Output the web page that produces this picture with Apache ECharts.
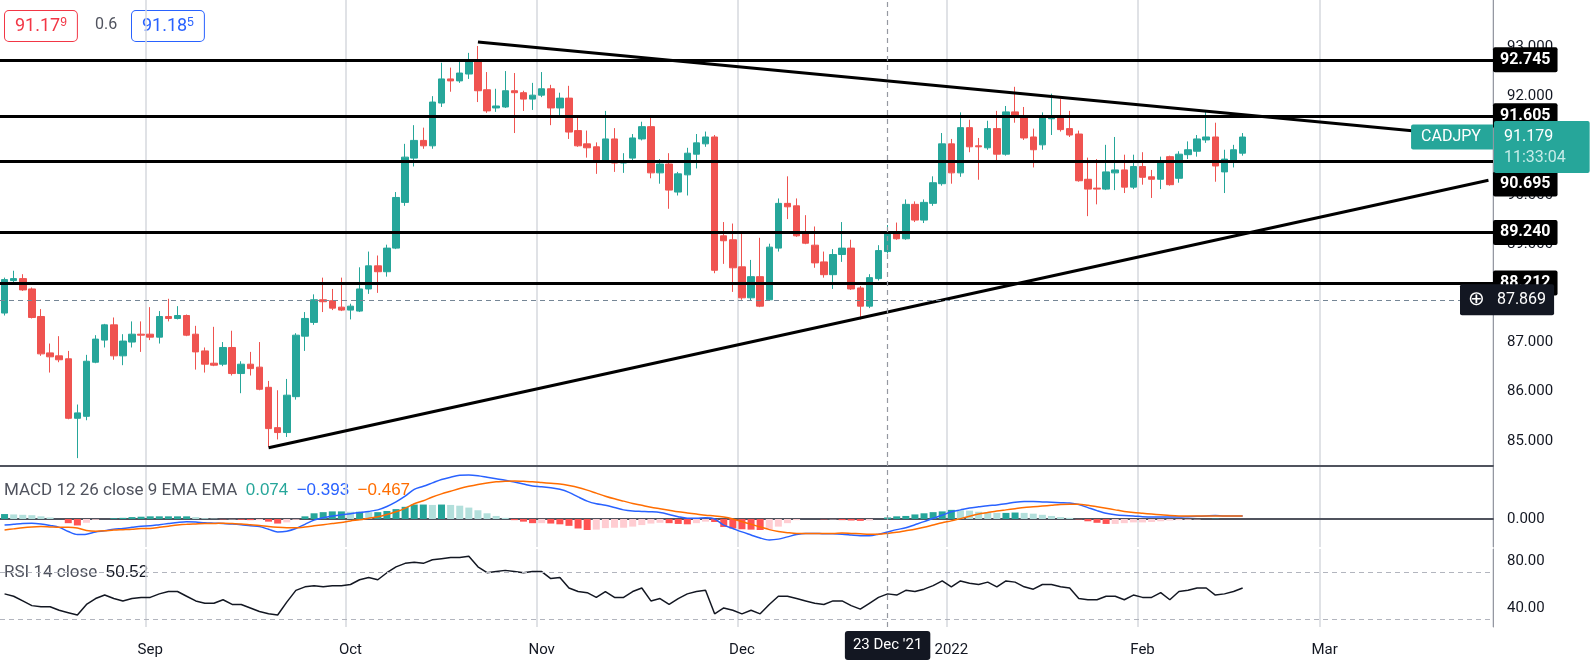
<!DOCTYPE html>
<html>
<head>
<meta charset="utf-8">
<script src="https://cdn.jsdelivr.net/npm/echarts@6/dist/echarts.min.js"></script>
<style>
  html, body { margin: 0; padding: 0; background: #fff; }
  #main { width: 1596px; height: 669px; }
</style>
</head>
<body>
<div id="main"></div>
<script>
// daily CADJPY candles, [open, close, low, high]
const candles = [
  [87.60,88.28,87.55,88.32],[88.26,88.30,88.23,88.46],[88.30,88.07,88.05,88.39],[88.09,87.51,87.49,88.12],[87.53,86.77,86.73,87.68],
  [86.79,86.71,86.39,86.98],[86.73,86.65,86.60,87.13],[86.67,85.46,85.44,86.83],[85.46,85.57,84.65,85.74],[85.50,86.62,85.42,86.75],
  [86.60,87.07,86.58,87.15],[87.05,87.36,86.90,87.38],[87.36,86.73,86.65,87.51],[86.73,87.03,86.54,87.17],[87.01,87.17,86.90,87.43],
  [87.17,87.15,86.81,87.43],[87.17,87.11,87.05,87.72],[87.11,87.53,86.98,87.64],[87.53,87.49,87.43,87.89],[87.49,87.55,87.47,87.74],
  [87.55,87.15,87.13,87.57],[87.17,86.81,86.45,87.34],[86.83,86.56,86.39,86.90],[86.58,86.54,86.52,87.32],[86.56,86.90,86.52,87.01],
  [86.90,86.37,86.33,87.24],[86.37,86.56,85.97,86.62],[86.56,86.47,86.33,86.81],[86.50,86.05,86.03,87.01],[86.09,85.25,84.88,86.22],
  [85.27,85.17,85.03,86.03],[85.17,85.93,85.08,86.26],[85.90,87.15,85.84,87.19],[87.13,87.49,86.83,87.62],[87.41,87.87,87.36,87.98],
  [87.87,87.83,87.62,88.32],[87.85,87.70,87.66,88.09],[87.72,87.66,87.64,88.32],[87.66,87.74,87.47,87.79],[87.64,88.09,87.62,88.53],
  [88.09,88.56,87.99,88.85],[88.56,88.44,88.01,88.77],[88.44,88.92,88.34,88.99],[88.92,89.95,88.90,90.06],[89.85,90.77,89.78,91.04],
  [90.75,91.11,90.58,91.42],[91.11,91.00,90.94,91.37],[91.00,91.89,90.94,92.01],[91.87,92.36,91.79,92.69],[92.36,92.32,92.10,92.59],
  [92.32,92.48,92.28,92.71],[92.46,92.71,92.36,92.89],[92.71,92.12,91.89,93.03],[92.14,91.71,91.67,92.50],[91.77,91.81,91.69,92.16],
  [91.79,92.12,91.77,92.52],[92.12,92.08,91.26,92.48],[92.08,91.95,91.71,92.12],[91.95,92.03,91.73,92.28],[92.03,92.16,91.99,92.50],
  [92.16,91.77,91.42,92.24],[91.77,91.97,91.62,92.08],[91.97,91.28,91.14,92.22],[91.31,91.00,90.98,91.57],[91.04,90.96,90.76,91.31],
  [90.98,90.71,90.43,91.07],[90.71,91.14,90.67,91.71],[91.14,90.65,90.47,91.36],[90.65,90.67,90.45,90.85],[90.75,91.16,90.67,91.24],
  [91.14,91.39,91.11,91.49],[91.39,90.45,90.34,91.57],[90.45,90.63,90.23,90.73],[90.63,90.10,89.72,90.85],[90.06,90.43,89.99,90.47],
  [90.41,90.85,89.99,90.96],[90.83,91.06,90.54,91.24],[91.04,91.18,90.98,91.29],[91.18,88.47,88.41,91.22],[89.17,89.07,88.60,89.45],
  [89.09,88.52,88.03,89.42],[88.54,87.91,87.87,89.21],[87.91,88.34,87.85,88.68],[88.34,87.74,87.72,89.13],[87.87,88.94,87.85,89.01],
  [88.92,89.83,88.85,89.93],[89.83,89.76,89.51,90.38],[89.78,89.17,89.15,89.93],[89.23,89.02,89.00,89.59],[88.98,88.62,88.52,89.36],
  [88.64,88.38,88.32,88.85],[88.38,88.79,88.09,88.90],[88.79,88.92,88.64,89.45],[88.92,88.09,88.07,89.09],[88.11,87.74,87.47,88.15],
  [87.74,88.32,87.70,88.39],[88.30,88.87,88.26,88.98],[88.85,89.23,88.81,89.39],[89.23,89.11,89.09,89.44],[89.11,89.81,89.09,89.91],
  [89.81,89.49,89.45,89.87],[89.49,89.85,89.43,89.91],[89.83,90.25,89.78,90.38],[90.23,91.04,90.19,91.26],[91.04,90.45,90.23,91.14],
  [90.45,91.37,90.37,91.68],[91.37,90.98,90.87,91.53],[91.00,90.98,90.31,91.16],[90.96,91.35,90.92,91.51],[91.35,90.83,90.65,91.71],
  [90.83,91.69,90.80,91.81],[91.69,91.62,91.47,92.20],[91.59,91.16,91.12,91.79],[91.18,90.92,90.56,91.35],[91.02,91.59,90.92,91.68],
  [91.55,91.57,91.22,92.06],[91.59,91.33,91.29,91.95],[91.35,91.22,91.18,91.71],[91.24,90.29,90.27,91.31],[90.32,90.12,89.57,90.76],
  [90.14,90.12,89.81,90.73],[90.12,90.47,90.10,91.02],[90.45,90.51,90.10,91.18],[90.51,90.16,90.04,90.82],[90.16,90.58,90.12,90.82],
  [90.58,90.36,90.21,90.87],[90.37,90.32,89.94,90.51],[90.32,90.67,90.12,90.78],[90.78,90.21,90.19,90.80],[90.34,90.83,90.25,90.89],
  [90.82,90.92,90.73,91.09],[90.89,91.14,90.78,91.22],[91.12,91.18,91.06,91.71],[91.18,90.59,90.27,91.47],[90.47,90.73,90.04,90.92],
  [90.71,90.92,90.56,91.02],[90.85,91.179,90.80,91.26]
];

const macdLine = [
  -0.16,-0.14,-0.12,-0.11,-0.13,-0.17,-0.22,-0.33,-0.41,-0.40,
  -0.34,-0.31,-0.27,-0.25,-0.22,-0.19,-0.18,-0.15,-0.12,-0.09,
  -0.07,-0.08,-0.10,-0.11,-0.12,-0.13,-0.15,-0.18,-0.20,-0.27,
  -0.34,-0.32,-0.25,-0.14,-0.03,0.03,0.08,0.11,0.14,0.17,
  0.20,0.24,0.33,0.45,0.60,0.78,
  0.86,0.95,1.04,1.10,1.15,1.16,1.14,1.10,1.06,1.02,
  0.97,0.92,0.87,0.85,0.82,0.78,0.70,0.58,0.47,0.40,
  0.36,0.30,0.24,0.21,0.20,0.19,0.17,0.12,0.06,0.02,
  0.02,0.03,0.00,-0.16,-0.25,-0.34,-0.42,-0.50,-0.55,-0.53,
  -0.47,-0.41,-0.38,-0.38,-0.39,-0.39,
  -0.40,-0.42,-0.44,-0.44,-0.40,-0.34,-0.28,-0.23,-0.15,-0.07,
  0.02,0.10,0.19,0.24,0.29,0.32,0.35,0.37,0.40,0.44,
  0.46,0.46,0.45,0.44,0.43,0.42,0.38,0.30,0.22,0.15,
  0.11,0.09,0.08,0.06,0.05,0.05,0.05,0.05,0.06,0.07,
  0.08,0.09,0.08,0.08,0.08
];
const signalLine = [
  -0.29,-0.26,-0.23,-0.21,-0.20,-0.21,-0.22,-0.22,-0.24,-0.30,
  -0.32,-0.31,-0.29,-0.28,-0.27,-0.25,-0.25,-0.22,-0.19,-0.16,
  -0.14,-0.13,-0.12,-0.12,-0.11,-0.12,-0.13,-0.15,-0.17,-0.20,
  -0.22,-0.23,-0.23,-0.21,-0.18,-0.15,-0.12,-0.09,-0.05,-0.02,
  0.02,0.06,0.12,0.19,0.28,0.40,
  0.48,0.58,0.66,0.73,0.80,0.86,0.91,0.95,0.98,0.99,
  1.00,0.99,0.98,0.96,0.94,0.92,0.88,0.83,0.76,0.68,
  0.60,0.53,0.47,0.41,0.36,0.31,0.27,0.23,0.19,0.16,
  0.13,0.10,0.08,0.05,0.00,-0.07,-0.14,-0.21,-0.28,-0.33,
  -0.36,-0.38,-0.38,-0.38,-0.38,-0.38,
  -0.37,-0.38,-0.39,-0.40,-0.40,-0.38,-0.35,-0.31,-0.27,-0.22,
  -0.16,-0.10,-0.05,0.01,0.07,0.13,0.17,0.21,0.24,0.27,
  0.30,0.32,0.34,0.36,0.38,0.39,0.39,0.36,0.32,0.28,
  0.24,0.20,0.17,0.15,0.13,0.11,0.09,0.08,0.08,0.08,
  0.08,0.08,0.08,0.08,0.08
];
const rsiLine = [
  52,50,46,42,41,41,38,36,34,43,48,51,48,46,48,49,49,52,54,54,
  50,46,44,44,47,43,43,40,37,35,34,45,55,58,59,58,59,59,60,64,
  66,64,70,75,78,79,
  78,81,82,83,83,84,75,70,71,72,71,70,71,71,65,66,57,54,53,49,
  54,49,49,54,57,46,48,43,48,52,54,55,35,40,38,35,38,35,43,50,
  50,48,46,44,43,46,
  46,42,39,44,49,52,51,55,54,56,59,63,58,63,61,60,62,58,63,62,
  58,56,60,60,58,57,48,47,47,50,50,47,51,49,49,53,47,54,55,57,
  57,51,52,54,57
];

const levels = ['92.745', '91.605', '90.695', '89.240', '88.212'];
const upperTrend = [[52, 93.11], [163, 91.16]];
const lowerTrend = [[29, 84.86], [163, 90.30]];
const priceTicks = [85, 86, 87, 88, 89, 90, 91, 92, 93];
const monthStarts = {16: 'Sep', 38: 'Oct', 59: 'Nov', 81: 'Dec', 104: '2022', 125: 'Feb', 145: 'Mar'};
const crossIdx = 97;
const crossPrice = '87.869';
const lastPrice = '91.179';

// weekday categories from 10 Aug 2021, with empty room on the right
const dates = [];
let d = new Date(Date.UTC(2021, 7, 10));
while (dates.length < 164) {
  const wd = d.getUTCDay();
  if (wd !== 0 && wd !== 6) dates.push(d.toISOString().slice(0, 10));
  d = new Date(d.getTime() + 86400000);
}

const UP = '#26A69A', DOWN = '#EF5350';
const CLEAR = 'rgba(0,0,0,0)';
const hist = macdLine.map((v, i) => +(v - signalLine[i]).toFixed(3));
const histData = hist.map((h, i) => {
  const prev = i ? hist[i - 1] : h;
  let c;
  if (h >= 0) c = h >= prev ? '#26A69A' : '#B2DFDB';
  else c = h < prev ? '#FF5252' : '#FFCDD2';
  return {value: h, itemStyle: {color: c}};
});

const FONT = 'Roboto';
const monthLine = (i) => monthStarts[i] !== undefined;

function xAxisFor(gi, showLabels) {
  return {
    type: 'category', gridIndex: gi, data: dates, boundaryGap: true,
    axisLine: {show: gi < 2, lineStyle: {color: '#50535e', width: 2}},
    axisTick: {show: false},
    axisLabel: showLabels ? {
      show: true, interval: (i) => monthLine(i), formatter: (v, i) => monthStarts[i] || '',
      color: '#131722', fontSize: 15, fontFamily: FONT, margin: 16
    } : {show: false},
    splitLine: {show: true, interval: (i) => monthLine(i), lineStyle: {color: '#d6d8de', width: 1.5}}
  };
}

const crossV = {
  symbol: 'none', silent: true, animation: false,
  lineStyle: {color: '#9598a1', type: [5, 4], width: 1.2},
  label: {show: false},
  data: [{xAxis: crossIdx}]
};

const levelLabel = {
  show: true, position: 'end', distance: 0, color: '#fff', backgroundColor: '#000',
  fontSize: 16, fontWeight: 'bold', fontFamily: FONT, padding: [5, 7, 4, 7], borderRadius: 2,
  formatter: '{b}'
};

const chart = echarts.init(document.getElementById('main'), null, {renderer: 'canvas'});
chart.setOption({
  animation: false,
  backgroundColor: '#fff',
  grid: [
    {left: 0, right: 103, top: 0, height: 466},
    {left: 0, right: 103, top: 467, height: 80},
    {left: 0, right: 103, top: 549, height: 78}
  ],
  xAxis: [
    xAxisFor(0, false), xAxisFor(1, false),
    Object.assign(xAxisFor(2, true), {
      axisPointer: {
        show: true, status: 'show', value: dates[crossIdx], type: 'line', triggerOn: 'none',
        lineStyle: {color: '#9598a1', type: [5, 4], width: 1.2},
        label: {show: true, formatter: "23 Dec '21", backgroundColor: '#131722', color: '#fff',
          fontSize: 15, fontFamily: FONT, padding: [7, 8], margin: 4}
      }
    })
  ],
  yAxis: [
    {
      type: 'value', gridIndex: 0, position: 'right', min: 84.49, max: 93.965, scale: true,
      axisLine: {show: true, lineStyle: {color: '#9598a1'}}, axisTick: {show: false},
      splitLine: {show: false},
      axisLabel: {customValues: priceTicks, formatter: (v) => v.toFixed(3), color: '#131722',
        fontSize: 15, fontFamily: FONT, margin: 14}
    },
    {
      type: 'value', gridIndex: 1, position: 'right', min: -0.737, max: 1.368,
      axisLine: {show: true, lineStyle: {color: '#9598a1'}}, axisTick: {show: false},
      splitLine: {show: false},
      axisLabel: {customValues: [0], formatter: (v) => v.toFixed(3), color: '#131722',
        fontSize: 15, fontFamily: FONT, margin: 14}
    },
    {
      type: 'value', gridIndex: 2, position: 'right', min: 23.8, max: 90.2,
      axisLine: {show: true, lineStyle: {color: '#9598a1'}}, axisTick: {show: false},
      splitLine: {show: false},
      axisLabel: {customValues: [40, 80], formatter: (v) => v.toFixed(2), color: '#131722',
        fontSize: 15, fontFamily: FONT, margin: 14}
    }
  ],
  series: [
    {
      type: 'candlestick', xAxisIndex: 0, yAxisIndex: 0, data: candles, barWidth: 7,
      itemStyle: {color: UP, color0: DOWN, borderColor: UP, borderColor0: DOWN, borderWidth: 1},
      markLine: {
        symbol: 'none', silent: true, animation: false,
        data: [
          ...levels.map((v) => ({yAxis: +v, name: v, lineStyle: {color: '#000', width: 3, type: 'solid'},
            label: Object.assign({}, levelLabel, v === '90.695' ? {offset: [0, 23]} : {})})),
          [{coord: upperTrend[0]}, {coord: upperTrend[1]}],
          [{coord: lowerTrend[0]}, {coord: lowerTrend[1]}],
          {yAxis: +crossPrice, lineStyle: {color: '#758696', width: 1.2, type: [5, 4]},
            label: {show: true, position: 'end', distance: 0, offset: [-33, 0], backgroundColor: '#131722',
              color: '#fff', fontSize: 16, fontFamily: FONT, padding: [6, 8, 5, 8], borderRadius: 2,
              formatter: '{c|⊕}   ' + crossPrice,
              rich: {c: {fontSize: 20, color: '#fff'}}}},
          {xAxis: crossIdx, lineStyle: {color: '#9598a1', width: 1.2, type: [5, 4]}, label: {show: false}}
        ],
        lineStyle: {color: '#000', width: 3, type: 'solid'},
        label: {show: false}
      },
      markPoint: {
        silent: true, animation: false, symbol: 'rect', symbolSize: 1,
        itemStyle: {color: CLEAR},
        data: [
          {coord: [163, +lastPrice], label: {show: true, position: 'right', distance: 5, offset: [0, 10],
            backgroundColor: UP, color: '#fff', fontSize: 16, fontFamily: FONT, padding: [5, 24, 5, 10],
            borderRadius: 2, lineHeight: 21, align: 'left',
            formatter: lastPrice + '\n{t|11:33:04}', rich: {t: {color: '#c6ece8', fontSize: 16, lineHeight: 21}}}},
          {coord: [163, +lastPrice], label: {show: true, position: 'left', distance: 0, offset: [5, 0],
            backgroundColor: UP, color: '#fff', fontSize: 16, fontFamily: FONT, padding: [5, 12, 4, 10],
            borderRadius: [2, 0, 0, 2], formatter: 'CADJPY'}}
        ]
      }
    },
    {
      type: 'bar', xAxisIndex: 1, yAxisIndex: 1, data: histData, barWidth: 7,
      markLine: crossV
    },
    {type: 'line', xAxisIndex: 1, yAxisIndex: 1, data: macdLine, showSymbol: false, smooth: 0.3,
      lineStyle: {color: '#2962FF', width: 1.5}, z: 3},
    {type: 'line', xAxisIndex: 1, yAxisIndex: 1, data: signalLine, showSymbol: false, smooth: 0.3,
      lineStyle: {color: '#FF6D00', width: 1.5}, z: 3},
    {
      type: 'line', xAxisIndex: 2, yAxisIndex: 2, data: rsiLine, showSymbol: false,
      lineStyle: {color: '#131722', width: 1.5},
      markLine: {
        symbol: 'none', silent: true, animation: false, label: {show: false},
        lineStyle: {color: '#b2b5be', type: [5, 4], width: 1},
        data: [{yAxis: 70}, {yAxis: 30}]
      }
    }
  ],
  graphic: [
    {type: 'text', left: 4, top: 10, style: {
      text: '91.17{s|9}', fill: '#F23645', font: '18px ' + FONT, rich: {s: {fontSize: 12, verticalAlign: 'top', fill: '#F23645'}},
      backgroundColor: '#fff', borderColor: '#F23645', borderWidth: 1, borderRadius: 4, padding: [6, 10]}},
    {type: 'text', left: 95, top: 17, style: {text: '0.6', fill: '#50535e', font: '16px ' + FONT}},
    {type: 'text', left: 131, top: 10, style: {
      text: '91.18{s|5}', fill: '#2962FF', font: '18px ' + FONT, rich: {s: {fontSize: 12, verticalAlign: 'top', fill: '#2962FF'}},
      backgroundColor: '#fff', borderColor: '#2962FF', borderWidth: 1, borderRadius: 4, padding: [6, 10]}},
    {type: 'text', left: 4, top: 482, style: {
      text: 'MACD 12 26 close 9 EMA EMA  {a|0.074}  {b|−0.393}  {c|−0.467}', fill: '#50535e', font: '17px ' + FONT,
      rich: {a: {fill: '#26A69A', fontSize: 17}, b: {fill: '#2962FF', fontSize: 17}, c: {fill: '#FF6D00', fontSize: 17}}}},
    {type: 'text', left: 4, top: 564, style: {
      text: 'RSI 14 close  {a|50.52}', fill: '#50535e', font: '17px ' + FONT,
      rich: {a: {fill: '#131722', fontSize: 17}}}}
  ]
});
</script>
</body>
</html>
